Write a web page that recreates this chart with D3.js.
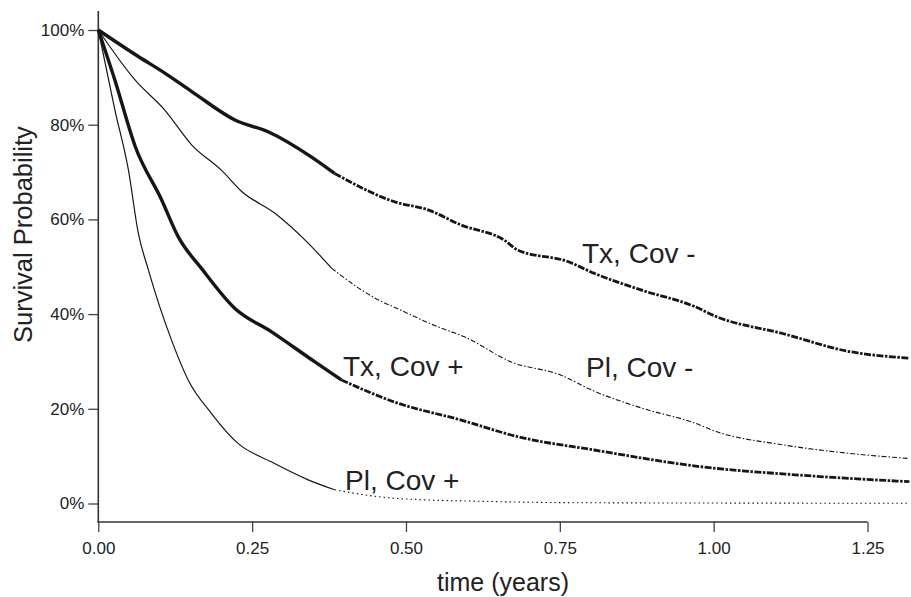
<!DOCTYPE html>
<html>
<head>
  <meta charset="utf-8">
  <title>Survival curves</title>
  <script src="https://cdnjs.cloudflare.com/ajax/libs/d3/7.8.5/d3.min.js"></script>
  <style>
    body { margin: 0; background: #fff; }
    text { font-family: "Liberation Sans", Arial, Helvetica, sans-serif; fill: #222; }
  </style>
</head>
<body>
<div id="chart"></div>
<script>

// survival estimates (time in years, survival in %)
var txNegTime = [0, 0.065, 0.108, 0.152, 0.222, 0.276, 0.346, 0.384, 0.482, 0.536, 0.590, 0.660, 0.682, 0.763, 0.806, 0.882, 0.969, 1.004, 1.112, 1.220, 1.318];
var txNegSurv = [100, 94.4, 90.9, 87.0, 81.0, 78.5, 73.2, 69.7, 63.7, 62.0, 58.8, 55.6, 53.5, 51.1, 48.6, 45.1, 41.6, 39.5, 35.9, 32.1, 30.7];

var plNegTime = [0, 0.060, 0.108, 0.152, 0.200, 0.233, 0.287, 0.341, 0.379, 0.455, 0.482, 0.552, 0.595, 0.671, 0.752, 0.801, 0.882, 0.969, 1.004, 1.112, 1.220, 1.318];
var plNegSurv = [100, 89.4, 83.1, 75.7, 70.4, 65.9, 61.3, 55.0, 49.7, 43.0, 41.4, 37.3, 35.2, 29.9, 27.1, 24.0, 20.2, 17.0, 15.2, 12.4, 10.6, 9.5];

var txPosTime = [0, 0.027, 0.060, 0.103, 0.130, 0.168, 0.222, 0.281, 0.352, 0.395, 0.482, 0.590, 0.682, 0.806, 0.977, 1.139, 1.318];
var txPosSurv = [100, 89.4, 75.4, 64.1, 56.3, 49.6, 41.2, 36.3, 29.9, 26.1, 21.4, 17.6, 14.1, 11.3, 7.8, 6.0, 4.6];

var plPosTime = [0, 0.027, 0.049, 0.065, 0.081, 0.119, 0.146, 0.184, 0.227, 0.281, 0.341, 0.384, 0.482, 0.644, 0.806, 1.318];
var plPosSurv = [100, 83.1, 70.4, 57.1, 49.5, 34.5, 26.1, 19.0, 12.7, 8.8, 5.0, 2.9, 1.1, 0.4, 0.15, 0.05];

var xTicks = [0, 0.25, 0.5, 0.75, 1.0, 1.25];
var yTicks = [0, 20, 40, 60, 80, 100];

var width = 911, height = 597;

var svg = d3.select('#chart').append('svg')
            .attr('width', width)
            .attr('height', height);

var x = d3.scaleLinear().domain([0, 1.25]).range([98.3, 867.5]);
var y = d3.scaleLinear().domain([0, 100]).range([503.5, 30]);

// axes: ticks from d3, axis lines drawn separately (R style)
var yAxis = svg.append('g')
               .attr('transform', 'translate(98.3,0)')
               .call(d3.axisLeft(y).tickValues(yTicks).tickSize(10).tickPadding(4)
                       .tickFormat(function(d){ return d + '%'; }));
var xAxis = svg.append('g')
               .attr('transform', 'translate(0,522)')
               .call(d3.axisBottom(x).tickValues(xTicks).tickSize(10).tickPadding(10)
                       .tickFormat(d3.format('.2f')));

[yAxis, xAxis].forEach(function(g){
  g.select('.domain').remove();
  g.selectAll('.tick line').attr('stroke', '#444').attr('stroke-width', 1.3);
  g.selectAll('.tick text').style('font-size', '17px').attr('fill', '#222');
});

svg.append('line')
   .attr('x1', 98.3).attr('x2', 98.3).attr('y1', 11).attr('y2', 522.6)
   .attr('stroke', '#333').attr('stroke-width', 1.6);
svg.append('line')
   .attr('x1', 97.5).attr('x2', x(1.25)).attr('y1', 522).attr('y2', 522)
   .attr('stroke', '#333').attr('stroke-width', 1.6);

// axis titles
svg.append('text')
   .attr('x', 437).attr('y', 591)
   .style('font-size', '25px')
   .text('time (years)');
svg.append('text')
   .attr('transform', 'translate(32,343) rotate(-90)')
   .style('font-size', '25.5px')
   .text('Survival Probability');

// curves: solid at first, the long flat tails look broken up in the print
var series = [
  {time: txNegTime, surv: txNegSurv, w: 3.4, split: 0.39, dash: '7,1.5,2.5,1.5', tailW: 2.8},
  {time: plNegTime, surv: plNegSurv, w: 1.2, split: 0.38, dash: '5,2,1.5,2', tailW: 1.1},
  {time: txPosTime, surv: txPosSurv, w: 3.4, split: 0.40, dash: '7,1.5,2.5,1.5', tailW: 2.8},
  {time: plPosTime, surv: plPosSurv, w: 1.2, split: 0.39, dash: '1.5,3', tailW: 1.1}
];

var line = d3.line()
             .x(function(d){ return x(d[0]); })
             .y(function(d){ return y(d[1]); })
             .curve(d3.curveMonotoneX);

series.forEach(function(s){
  var pts = s.time.map(function(t, i){ return [t, s.surv[i]]; });
  var head = pts.filter(function(d){ return d[0] <= s.split; });
  var tail = pts.filter(function(d){ return d[0] >= head[head.length - 1][0]; });
  svg.append('path')
     .attr('d', line(head))
     .attr('fill', 'none')
     .attr('stroke', '#161616')
     .attr('stroke-width', s.w)
     .attr('stroke-linejoin', 'round');
  svg.append('path')
     .attr('d', line(tail))
     .attr('fill', 'none')
     .attr('stroke', '#161616')
     .attr('stroke-width', s.tailW)
     .attr('stroke-dasharray', s.dash);
});

// curve labels
var labels = [
  {text: 'Tx, Cov -', x: 582, y: 263},
  {text: 'Pl, Cov -', x: 586, y: 377},
  {text: 'Tx, Cov +', x: 343, y: 376},
  {text: 'Pl, Cov +', x: 345, y: 490}
];
svg.selectAll('.lab')
   .data(labels)
   .enter()
   .append('text')
   .attr('class', 'lab')
   .attr('x', function(d){ return d.x; })
   .attr('y', function(d){ return d.y; })
   .style('font-size', '28px')
   .text(function(d){ return d.text; });

</script>
</body>
</html>
